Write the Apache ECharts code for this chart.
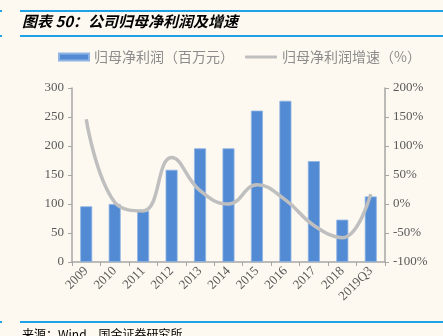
<!DOCTYPE html>
<html>
<head>
<meta charset="utf-8">
<script src="https://cdn.jsdelivr.net/npm/echarts@6/dist/echarts.min.js"></script>
<style>
  html, body { margin: 0; padding: 0; background: #fdf9f0; }
  #chart { width: 443px; height: 336px; }
</style>
</head>
<body>
<div id="chart"></div>
<script>
// Annual net profit attributable to parent (RMB mn) and its YoY growth (%)
const categories = ['2009', '2010', '2011', '2012', '2013', '2014', '2015', '2016', '2017', '2018', '2019Q3'];
const netProfit = [96, 100, 88, 159, 196, 196, 261, 278, 174, 73, 113];
const profitGrowth = [146, 3, -12, 80, 23, 0, 33, 7, -37, -58, 17];
const leftTicks = [0, 300, 50];
const rightTicks = [-100, 200, 50];

const axisGray = '#a6a6a6';
const labelGray = '#595959';
const serif = '"Liberation Serif", "DejaVu Serif", serif';
const cjk = '"Noto Sans CJK SC", sans-serif';
const legendText = { color: '#8c8c8c', fontSize: 14, fontFamily: cjk };

const chart = echarts.init(document.getElementById('chart'), null, { renderer: 'canvas' });

chart.setOption({
  backgroundColor: '#fdf9f0',
  animation: false,
  graphic: [
    { type: 'rect', shape: { x: 20, y: 10, width: 423, height: 2 }, style: { fill: '#1fa3e6' } },
    { type: 'rect', shape: { x: 0, y: 10, width: 2, height: 2 }, style: { fill: '#1fa3e6' } },
    { type: 'rect', shape: { x: 20, y: 35, width: 423, height: 2 }, style: { fill: '#1fa3e6' } },
    { type: 'rect', shape: { x: 0, y: 35, width: 2, height: 2 }, style: { fill: '#1fa3e6' } },
    { type: 'text', left: 22, top: 14,
      style: { text: '图表 50：公司归母净利润及增速', fill: '#000', font: 'italic bold 15px ' + cjk } },
    { type: 'rect', shape: { x: 20, y: 321, width: 423, height: 2 }, style: { fill: '#1fa3e6' } },
    { type: 'rect', shape: { x: 0, y: 321, width: 2, height: 2 }, style: { fill: '#1fa3e6' } },
    { type: 'text', left: 22, top: 328,
      style: { text: '来源：Wind，国金证券研究所', fill: '#000', font: '12px ' + cjk } }
  ],
  legend: [
    {
      top: 50, left: 58, padding: 0,
      itemWidth: 30, itemHeight: 7,
      textStyle: legendText,
      data: [{ name: '归母净利润（百万元）', icon: 'rect' }]
    },
    {
      top: 50, left: 245, padding: 0,
      itemWidth: 32, itemHeight: 3,
      textStyle: legendText,
      data: [{ name: '归母净利润增速（%）', icon: 'roundRect' }]
    }
  ],
  grid: { left: 72, right: 58, top: 88, bottom: 74 },
  xAxis: {
    type: 'category',
    data: categories,
    axisLine: { lineStyle: { color: axisGray, width: 1.5 } },
    axisTick: { show: true, length: 4, lineStyle: { color: axisGray } },
    axisLabel: { rotate: 45, color: labelGray, fontSize: 13, fontFamily: serif, margin: 7 }
  },
  yAxis: [
    {
      type: 'value', min: leftTicks[0], max: leftTicks[1], interval: leftTicks[2],
      axisLine: { show: true, lineStyle: { color: axisGray, width: 1.5 } },
      axisTick: { show: true, length: 4, lineStyle: { color: axisGray } },
      splitLine: { show: false },
      axisLabel: { color: labelGray, fontSize: 13, fontFamily: serif, margin: 8 }
    },
    {
      type: 'value', min: rightTicks[0], max: rightTicks[1], interval: rightTicks[2],
      position: 'right',
      axisLine: { show: true, lineStyle: { color: axisGray, width: 1.5 } },
      axisTick: { show: true, length: 4, lineStyle: { color: axisGray } },
      splitLine: { show: false },
      axisLabel: { color: labelGray, fontSize: 13, fontFamily: serif, margin: 8, formatter: '{value}%' }
    }
  ],
  series: [
    {
      name: '归母净利润（百万元）',
      type: 'bar',
      data: netProfit,
      barWidth: 12,
      itemStyle: { color: '#528bd4', borderColor: '#8fb4e4', borderWidth: 0.8 }
    },
    {
      name: '归母净利润增速（%）',
      type: 'line',
      yAxisIndex: 1,
      data: profitGrowth,
      smooth: 0.45,
      symbol: 'none',
      lineStyle: { color: '#bfbfbf', width: 3.5 },
      itemStyle: { color: '#bfbfbf' }
    }
  ]
});
</script>
</body>
</html>
